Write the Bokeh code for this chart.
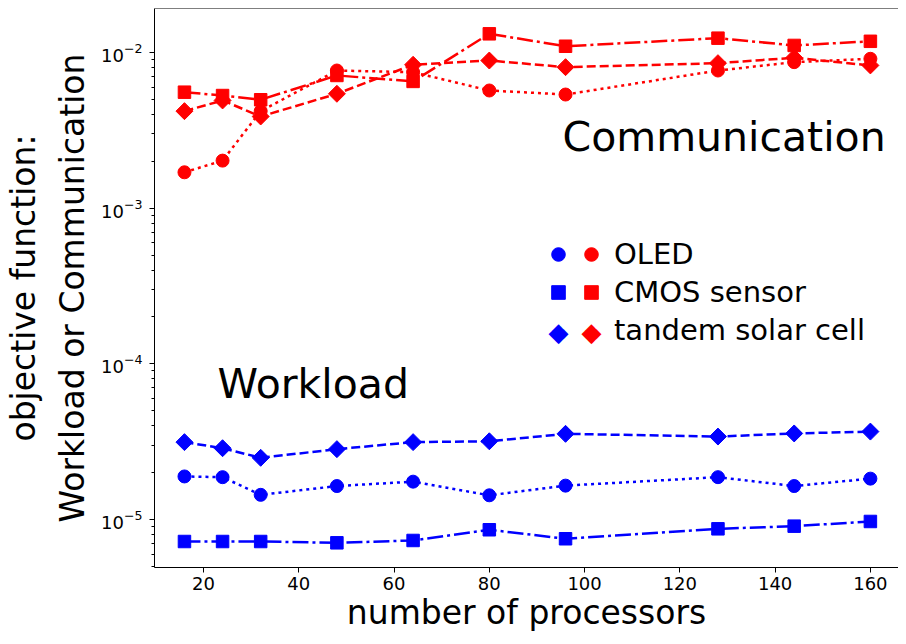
import math
from bokeh.plotting import figure
from bokeh.models import Range1d, Label, Legend, LegendItem, FixedTicker, Span
from bokeh.embed import file_html
from bokeh.resources import INLINE

# ---- data ----
processors = [16, 24, 32, 48, 64, 80, 96, 128, 144, 160]

workload_oled = [1.89e-5, 1.87e-5, 1.44e-5, 1.64e-5, 1.75e-5, 1.43e-5, 1.65e-5, 1.87e-5, 1.64e-5, 1.83e-5]
workload_cmos = [7.22e-6, 7.22e-6, 7.22e-6, 7.08e-6, 7.33e-6, 8.59e-6, 7.52e-6, 8.71e-6, 9.06e-6, 9.71e-6]
workload_tandem = [3.14e-5, 2.87e-5, 2.49e-5, 2.83e-5, 3.14e-5, 3.18e-5, 3.55e-5, 3.41e-5, 3.57e-5, 3.67e-5]

comm_oled = [1.70e-3, 2.02e-3, 4.2e-3, 7.66e-3, 7.47e-3, 5.70e-3, 5.37e-3, 7.66e-3, 8.67e-3, 9.11e-3]
comm_cmos = [5.56e-3, 5.29e-3, 4.97e-3, 7.12e-3, 6.52e-3, 1.318e-2, 1.097e-2, 1.236e-2, 1.11e-2, 1.18e-2]
comm_tandem = [4.2e-3, 4.92e-3, 3.88e-3, 5.43e-3, 8.34e-3, 8.88e-3, 8.05e-3, 8.54e-3, 9.25e-3, 8.26e-3]

series_names = ["OLED", "CMOS sensor", "tandem solar cell"]
x_ticks = [20, 40, 60, 80, 100, 120, 140, 160]

FONT = "DejaVu Sans"
BLUE = "#0000ff"
RED = "#ff0000"

Y_START, Y_END = 4.915e-6, 1.917e-2

p = figure(width=898, height=636,
           x_range=Range1d(9.71, 165.9), y_range=Range1d(Y_START, Y_END),
           y_axis_type="log", output_backend="svg", toolbar_location=None,
           min_border_left=154, min_border_right=0, min_border_top=8, min_border_bottom=69)
p.outline_line_color = None
p.xgrid.grid_line_color = None
p.ygrid.grid_line_color = None
p.background_fill_color = "white"
p.border_fill_color = "white"
p.add_layout(Span(location=Y_END, dimension="width", line_color="black", line_width=1))

styles = {
    "OLED": dict(marker="circle", size=13, angle=0.0, dash="3 4"),
    "CMOS sensor": dict(marker="square", size=12.5, angle=0.0, dash="16 4 3 4"),
    "tandem solar cell": dict(marker="square", size=12, angle=math.pi / 4, dash="9 4"),
}

work = {"OLED": workload_oled, "CMOS sensor": workload_cmos, "tandem solar cell": workload_tandem}
comm = {"OLED": comm_oled, "CMOS sensor": comm_cmos, "tandem solar cell": comm_tandem}

blue_r, red_r = {}, {}
for name in series_names:
    st = styles[name]
    for data, color, store in ((work[name], BLUE, blue_r), (comm[name], RED, red_r)):
        p.line(processors, data, line_color=color, line_width=2.5, line_dash=st["dash"])
        r = p.scatter(processors, data, marker=st["marker"], size=st["size"], angle=st["angle"],
                      fill_color=color, line_color=color, line_width=1)
        store[name] = r

# invisible renderer: gives the "tandem" legend row its label without an (unrotatable) glyph
ghost = p.scatter(processors, comm_tandem, marker="square", size=1, fill_alpha=0, line_alpha=0)

for ax in (p.xaxis[0], p.yaxis[0]):
    ax.axis_line_color = "black"
    ax.major_tick_line_color = "black"
    ax.minor_tick_line_color = "black"
    ax.major_tick_out = 5
    ax.major_tick_in = 0
    ax.minor_tick_out = 3
    ax.minor_tick_in = 0
    ax.major_label_text_color = "black"
    ax.major_label_text_font = FONT
    ax.major_label_text_font_size = "18px"
    ax.axis_label_text_font = FONT
    ax.axis_label_text_font_size = "33px"
    ax.axis_label_text_font_style = "normal"
    ax.axis_label_text_color = "black"

p.xaxis.minor_tick_line_color = None
p.xaxis.ticker = FixedTicker(ticks=x_ticks)
p.xaxis.axis_label = "number of processors"
p.xaxis.major_label_standoff = 4
p.xaxis.axis_label_standoff = 0
p.yaxis.axis_label = "objective function:\nWorkload or Communication"
p.yaxis.axis_label_text_line_height = 1.25
p.yaxis.major_label_standoff = 7
p.yaxis.axis_label_standoff = 6

p.add_layout(Label(x=408, y=431, x_units="screen", y_units="screen", text="Communication",
                   text_font=FONT, text_font_size="41px", text_baseline="middle", text_color="black"))
p.add_layout(Label(x=63, y=184, x_units="screen", y_units="screen", text="Workload",
                   text_font=FONT, text_font_size="41px", text_baseline="middle", text_color="black"))

def make_legend(renderers, labels, loc):
    items = [LegendItem(label=lab, renderers=[r]) for r, lab in zip(renderers, labels)]
    return Legend(items=items, location=loc, orientation="vertical",
                  glyph_width=34, glyph_height=34, label_height=34, spacing=4,
                  padding=0, margin=0, label_standoff=6,
                  label_text_font=FONT, label_text_font_size="29px", label_text_color="black",
                  label_text_baseline="middle",
                  border_line_color=None, background_fill_alpha=0)

p.add_layout(make_legend([blue_r["OLED"], blue_r["CMOS sensor"]], [" ", " "], (387, 258)))
p.add_layout(make_legend([red_r["OLED"], red_r["CMOS sensor"], ghost], series_names, (420, 220)))

# diamond legend symbols (legend glyphs cannot be rotated)
for sx, color in ((404, BLUE), (437, RED)):
    p.add_layout(Label(x=sx, y=236, x_units="screen", y_units="screen", text="\u25c6",
                       text_font=FONT, text_font_size="26px", text_align="center",
                       text_baseline="middle", text_color=color))

open("out.html", "w").write(file_html(p, INLINE))
